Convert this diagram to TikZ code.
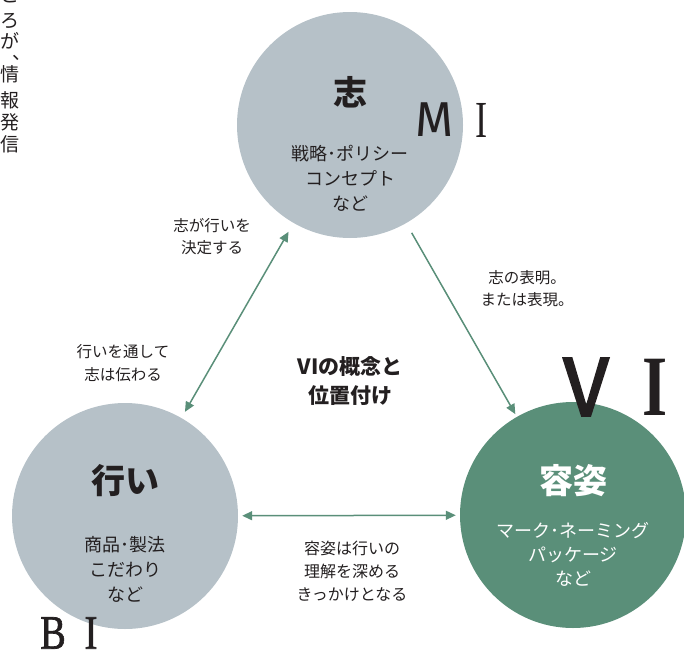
\documentclass[tikz,border=0pt]{standalone}
\usepackage{fontspec}
\newfontfamily\jp{Noto Sans CJK JP}
\newfontfamily\serifL{Liberation Serif}
\newfontfamily\serifH[FakeBold=1.5]{Liberation Serif}
\newfontfamily\firaL{Fira Sans}
\newfontfamily\firaH[FakeBold=2]{Fira Sans}
\usetikzlibrary{arrows.meta}
\definecolor{circgray}{HTML}{B6C1C8}
\definecolor{circgreen}{HTML}{5A8F79}
\definecolor{arrowgreen}{HTML}{5A8F79}
\definecolor{ink}{HTML}{231F20}
\newcommand{\mdot}{･}
\tikzset{
  bigcircle/.style={circle, inner sep=0pt, minimum size=226pt, draw=none},
  link/.style={draw=arrowgreen, line width=1.5pt, -{Triangle[length=10pt,width=9pt]}},
  twolink/.style={draw=arrowgreen, line width=1.5pt, {Triangle[length=10pt,width=9pt]}-{Triangle[length=10pt,width=9pt]}},
  title/.style={inner sep=0pt, text=ink, font={\jp\bfseries\fontsize{34}{40}\selectfont}},
  body/.style={inner sep=0pt, align=center, text=ink, font={\jp\fontsize{18}{25}\selectfont}},
  lbl/.style={inner sep=0pt, align=center, text=ink, font={\jp\fontsize{15.5}{22}\selectfont}},
  vchar/.style={inner sep=0pt, text=ink, font={\jp\fontsize{19}{19}\selectfont}},
  letter/.style={inner sep=0pt, text=ink}
}
\begin{document}
\begin{tikzpicture}[x=1pt,y=-1pt]
\useasboundingbox (0,0) rectangle (684,653);
% circles
\node[bigcircle, fill=circgray] (kokoro) at (350,125) {};
\node[bigcircle, fill=circgray] (okonai) at (125,516) {};
\node[bigcircle, fill=circgreen] (yoshi) at (573,515) {};
% circle texts
\node[title] (t1) at (350,92) {志};
\node[body] (b1) at (350,178) {戦略\mdot ポリシー\\コンセプト\\など};
\node[title] (t2) at (125,481) {行い};
\node[body] (b2) at (125,569) {商品\mdot 製法\\こだわり\\など};
\node[title, text=white] (t3) at (573,481) {容姿};
\node[body, text=white, font={\jp\fontsize{18}{24}\selectfont}] (b3) at (573,554) {マーク\mdot ネーミング\\パッケージ\\など};
% letters
\node[letter, font={\firaL\fontsize{49}{49}\selectfont}] (mM) at (435,120) {M};
\node[letter, font={\serifL\fontsize{52}{52}\selectfont}] (mI) at (482,120) {\scalebox{0.7}[1]{I}};
\node[letter, font={\firaH\fontsize{84}{84}\selectfont}] (vV) at (586,387) {V};
\node[letter, font={\serifL\bfseries\fontsize{86}{86}\selectfont}] (vI) at (655,387) {\scalebox{0.75}[1]{I}};
\node[letter, font={\serifH\fontsize{48}{48}\selectfont}] (bB) at (53,633) {\scalebox{0.8}[1]{B}};
\node[letter, font={\serifH\fontsize{48}{48}\selectfont}] (bI) at (91,633) {\scalebox{0.8}[1]{I}};
% connectors
\draw[twolink, shorten <=7pt, shorten >=10pt] (okonai) -- (kokoro);
\draw[link, shorten <=11pt, shorten >=3pt] (kokoro) -- (yoshi);
\draw[twolink, shorten <=4pt, shorten >=4pt] (okonai) -- (yoshi);
% labels
\node[lbl] (l1) at (212,237) {志が行いを\\決定する};
\node[lbl, font={\jp\fontsize{15.5}{23}\selectfont}] (l2) at (123,363) {行いを通して\\志は伝わる};
\node[lbl] (l3) at (527,289) {志の表明。\\または表現。};
\node[lbl, font={\jp\fontsize{16}{23}\selectfont}] (l4) at (352,571) {容姿は行いの\\理解を深める\\きっかけとなる};
\node[inner sep=0pt, align=center, text=ink, font={\jp\bfseries\fontsize{21}{29}\selectfont}] (center) at (350,381) {VIの概念と\\位置付け};
% vertical text at top left
\node[vchar] (v0) at (10,-4) {こ};
\node[vchar] (v1) at (10,21) {ろ};
\node[vchar] (v2) at (10,41) {が};
\node[vchar, anchor=base west] (v3) at (12,59) {、};
\node[vchar] (v4) at (10,74) {情};
\node[vchar] (v5) at (10,100) {報};
\node[vchar] (v6) at (10,122) {発};
\node[vchar] (v7) at (10,144) {信};
\end{tikzpicture}
\end{document}
